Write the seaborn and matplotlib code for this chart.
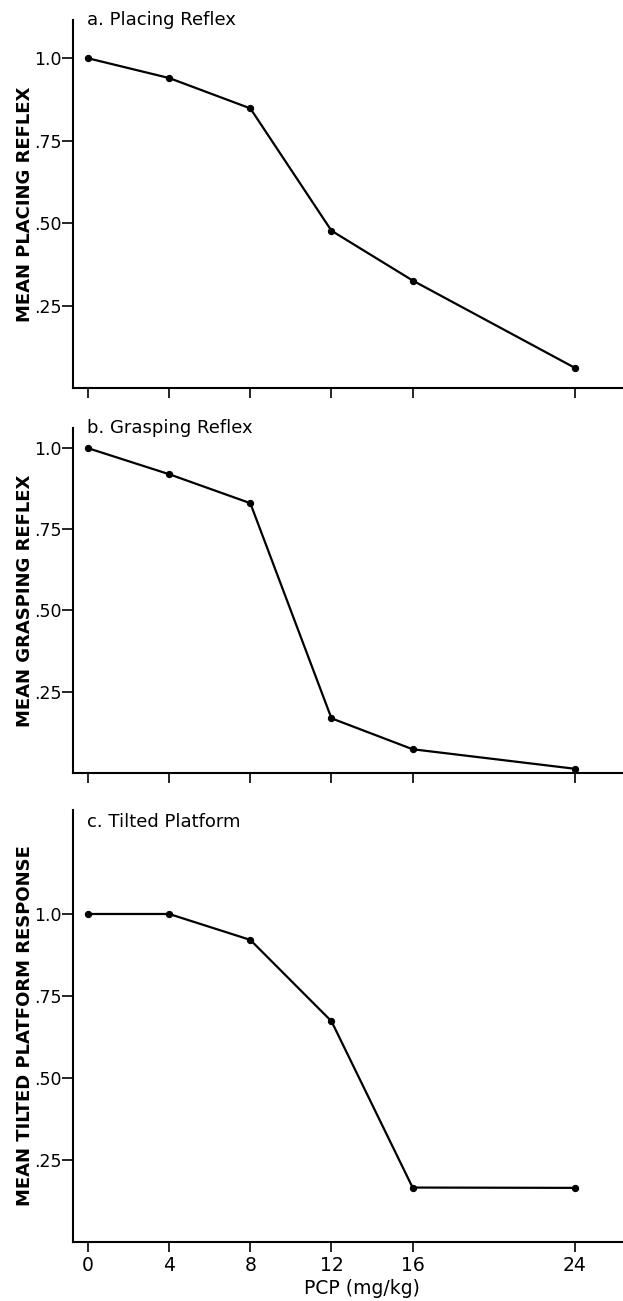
import matplotlib
matplotlib.use("Agg")
import matplotlib.pyplot as plt
import matplotlib.transforms as mtransforms
import seaborn as sns

# PCP dose (mg/kg) and mean responses
dose = [0, 4, 8, 12, 16, 24]
placing = [1.0, 0.94, 0.848, 0.477, 0.326, 0.061]
grasping = [0.998, 0.918, 0.829, 0.168, 0.073, 0.013]
tilted = [1.0, 1.0, 0.921, 0.673, 0.166, 0.165]

panel_titles = ["a. Placing Reflex", "b. Grasping Reflex", "c. Tilted Platform"]
y_labels = ["MEAN PLACING REFLEX", "MEAN GRASPING REFLEX",
            "MEAN TILTED PLATFORM RESPONSE"]
y_ticks = [0.25, 0.50, 0.75, 1.0]
y_ticklabels = [".25", ".50", ".75", "1.0"]
x_ticks = [0, 4, 8, 12, 16, 24]
x_label = "PCP (mg/kg)"

sns.set_theme(style="ticks")
plt.rcParams["font.family"] = ["DejaVu Sans"]
plt.rcParams["text.color"] = "black"
plt.rcParams["axes.labelcolor"] = "black"

W, H = 623, 1301
fig = plt.figure(figsize=(W / 100, H / 100), dpi=100)

# panel boxes in pixels: (top, bottom), y upper limit, title y (axes fraction)
boxes = [(20, 388, 1.116, 1.0), (428, 773, 1.06, 1.0), (810, 1242, 1.317, 0.972)]
left_px = 73
series = [placing, grasping, tilted]

for i, ((top, bot, ymax, ty), vals) in enumerate(zip(boxes, series)):
    ax = fig.add_axes([left_px / W, 1 - bot / H, (W - left_px) / W, (bot - top) / H])
    sns.lineplot(x=dose, y=vals, ax=ax, color="black", linewidth=1.6,
                 marker="o", markersize=4.5, markeredgecolor="black")
    ax.set_xlim(-0.74, 26.37)
    ax.set_ylim(0, ymax)
    sns.despine(ax=ax)
    for s in ("left", "bottom"):
        ax.spines[s].set_linewidth(1.5)
        ax.spines[s].set_color("black")

    ax.set_yticks(y_ticks)
    ax.set_yticklabels(y_ticklabels, fontsize=12.5)
    ax.set_xticks(x_ticks)
    ax.tick_params(axis="y", length=8, width=1.2, pad=0.5, colors="black")
    ax.tick_params(axis="x", length=7, width=1.2, pad=3, colors="black")
    if i < 2:
        ax.set_xticklabels([])
    else:
        ax.set_xticklabels([str(d) for d in x_ticks], fontsize=13.5)
        ax.set_xlabel(x_label, fontsize=13.5, labelpad=0)
        ax.xaxis.set_label_coords(0.525, -0.085)

    ax.set_ylabel(y_labels[i], fontsize=13, fontweight="bold")
    ax.yaxis.set_label_coords(-0.071, 0.5)

    trans = mtransforms.blended_transform_factory(ax.transData, ax.transAxes)
    ax.text(-0.05, ty, panel_titles[i], transform=trans, fontsize=13,
            ha="left", va="center", color="black")

fig.savefig("out.png", dpi=100)
